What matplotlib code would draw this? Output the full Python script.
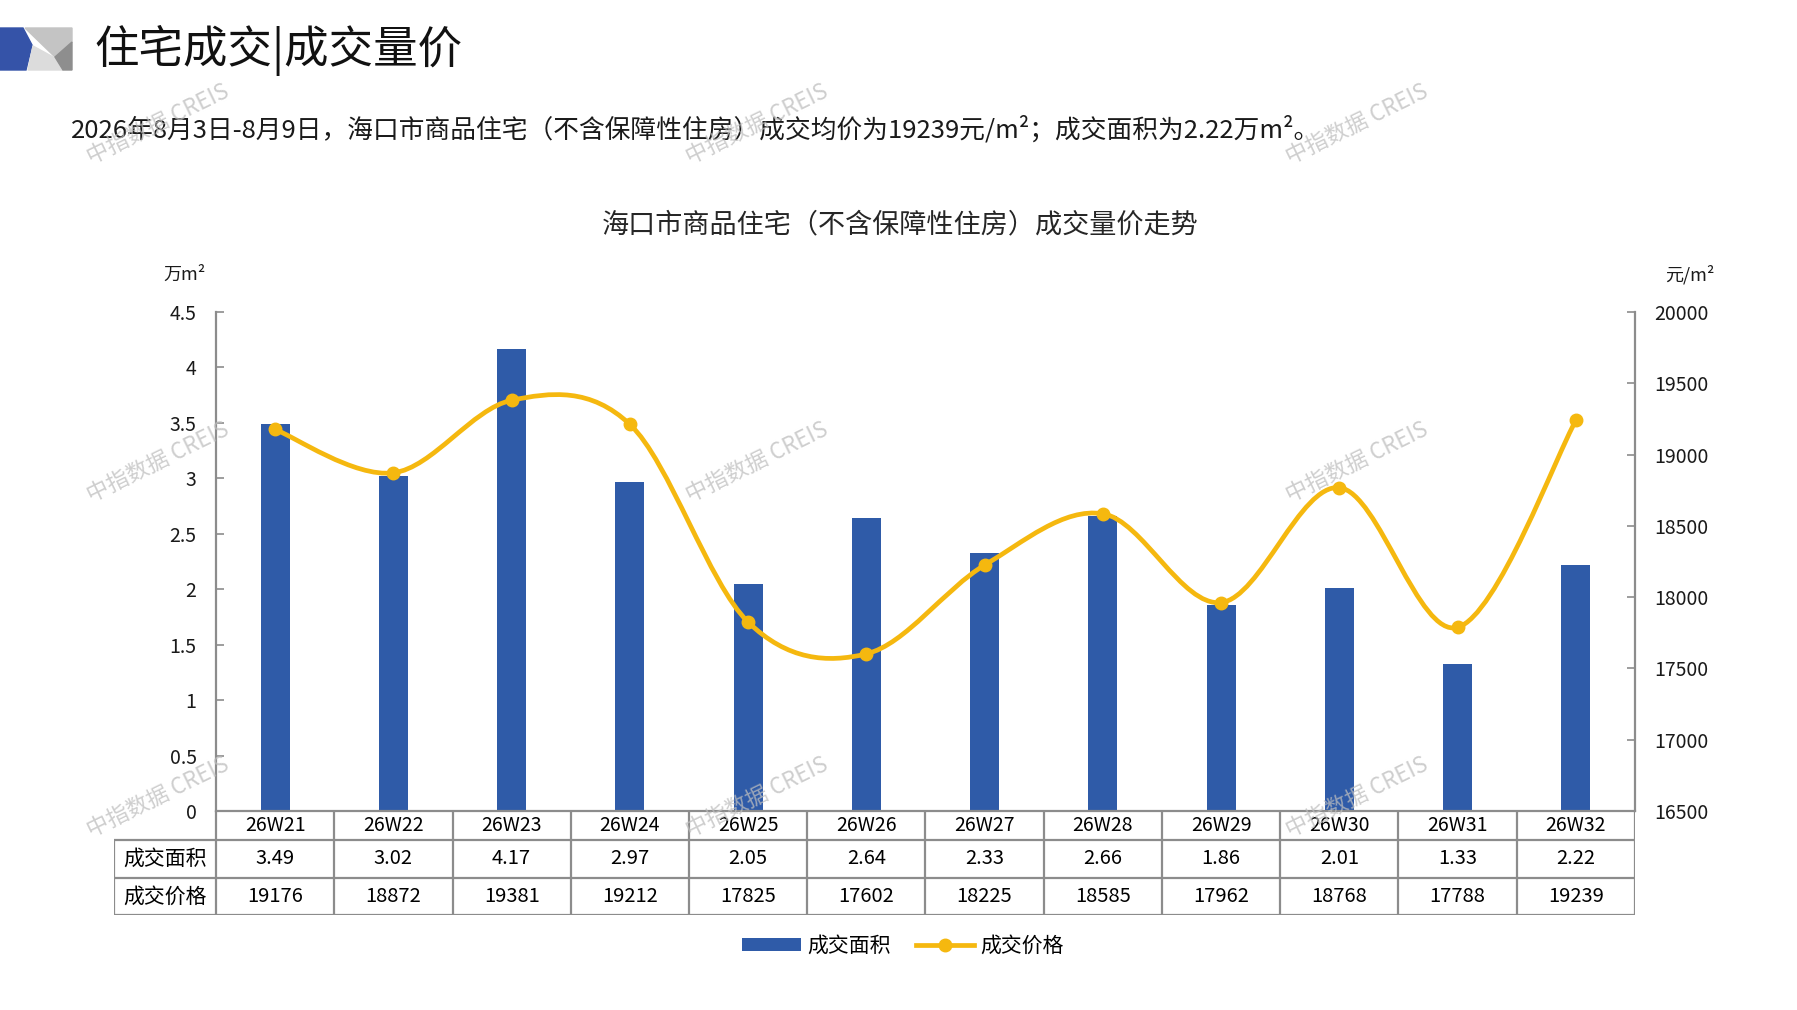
import numpy as np
import matplotlib
matplotlib.use("Agg")
import matplotlib.pyplot as plt
from matplotlib.path import Path
from matplotlib.patches import PathPatch, Polygon, Patch
from matplotlib.lines import Line2D

plt.rcParams['font.family'] = ['Noto Sans CJK SC', 'DejaVu Sans']

weeks = ['26W21', '26W22', '26W23', '26W24', '26W25', '26W26',
         '26W27', '26W28', '26W29', '26W30', '26W31', '26W32']
area = [3.49, 3.02, 4.17, 2.97, 2.05, 2.64, 2.33, 2.66, 1.86, 2.01, 1.33, 2.22]
price = [19176, 18872, 19381, 19212, 17825, 17602, 18225, 18585, 17962, 18768, 17788, 19239]
area_ticks = [0, 0.5, 1, 1.5, 2, 2.5, 3, 3.5, 4, 4.5]
area_tick_labels = ['0', '0.5', '1', '1.5', '2', '2.5', '3', '3.5', '4', '4.5']
price_ticks = [16500, 17000, 17500, 18000, 18500, 19000, 19500, 20000]

BLUE = '#2F5BA8'
GOLD = '#F5B80F'
GRID = '#8C8C8C'

W, H = 1797, 1010
fig = plt.figure(figsize=(W / 100, H / 100), dpi=100)


def fx(px):
    return px / W


def fy(py):
    return 1 - py / H


# main chart area
L, R, T, B = 216, 1635, 312, 811
ax = fig.add_axes([fx(L), fy(B), fx(R - L), (B - T) / H])
x = np.arange(len(weeks))
ax.bar(x, area, width=0.245, color=BLUE, zorder=2)
ax.set_xlim(-0.5, len(weeks) - 0.5)
ax.set_ylim(0, 4.5)
ax.set_yticks(area_ticks)
ax.set_yticklabels(area_tick_labels)
ax.set_xticks([])
for s in ['top', 'right']:
    ax.spines[s].set_visible(False)
ax.spines['left'].set_color(GRID)
ax.spines['left'].set_linewidth(1.6)
ax.spines['bottom'].set_color(GRID)
ax.spines['bottom'].set_linewidth(1.6)
ax.tick_params(axis='y', direction='in', length=6, width=1.2, color=GRID,
               labelsize=14, pad=14, labelcolor='#1a1a1a')

ax2 = ax.twinx()
ax2.set_ylim(16500, 20000)
ax2.set_yticks(price_ticks)
for s in ['top', 'left', 'bottom']:
    ax2.spines[s].set_visible(False)
ax2.spines['right'].set_color(GRID)
ax2.spines['right'].set_linewidth(1.6)
ax2.tick_params(axis='y', direction='in', length=6, width=1.2, color=GRID,
                labelsize=14, pad=14, labelcolor='#1a1a1a')


# smoothed price line (Excel style bezier through the points)
def smooth_path(xs, ys):
    n = len(xs)
    verts = [(xs[0], ys[0])]
    codes = [Path.MOVETO]
    for i in range(n - 1):
        xa, ya = (xs[i - 1], ys[i - 1]) if i > 0 else (xs[i], ys[i])
        xb, yb = (xs[i + 2], ys[i + 2]) if i + 2 < n else (xs[i + 1], ys[i + 1])
        c1 = (xs[i] + (xs[i + 1] - xa) / 6, ys[i] + (ys[i + 1] - ya) / 6)
        c2 = (xs[i + 1] - (xb - xs[i]) / 6, ys[i + 1] - (yb - ys[i]) / 6)
        verts += [c1, c2, (xs[i + 1], ys[i + 1])]
        codes += [Path.CURVE4] * 3
    return Path(verts, codes)


ax2.add_patch(PathPatch(smooth_path(list(x), price), facecolor='none',
                        edgecolor=GOLD, lw=3.4, zorder=3, capstyle='round'))
ax2.plot(x, price, 'o', color=GOLD, ms=9, zorder=4)

# data table under the chart
TL = 114
tab = fig.add_axes([fx(TL), fy(915), fx(R - TL), 104 / H])
unit = (R - L) / len(weeks)
tab.set_xlim(-0.5 - (L - TL) / unit, len(weeks) - 0.5)
tab.set_ylim(0, 104)
tab.axis('off')
lk = dict(color=GRID, lw=1.6, solid_capstyle='butt')
xl = -0.5 - (L - TL) / unit
tab.plot([xl, len(weeks) - 0.5], [0, 0], **lk)
tab.plot([xl, len(weeks) - 0.5], [37, 37], **lk)
tab.plot([xl, len(weeks) - 0.5], [75, 75], **lk)
tab.plot([xl, xl], [0, 75], **lk)
for b in np.arange(len(weeks) + 1) - 0.5:
    tab.plot([b, b], [0, 104], **lk)
for i, w in enumerate(weeks):
    tab.text(i, 89.5, w, ha='center', va='center', fontsize=14)
    tab.text(i, 56, f'{area[i]:.2f}', ha='center', va='center', fontsize=14.5)
    tab.text(i, 18.5, str(price[i]), ha='center', va='center', fontsize=14.5)
tab.text((xl - 0.5) / 2, 56, '成交面积', ha='center', va='center', fontsize=15)
tab.text((xl - 0.5) / 2, 18.5, '成交价格', ha='center', va='center', fontsize=15)

# overlay for header, logo, titles and watermarks
ov = fig.add_axes([0, 0, 1, 1], zorder=10)
ov.set_xlim(0, W)
ov.set_ylim(H, 0)
ov.axis('off')
ov.add_patch(Polygon([(0, 28), (23, 28), (32, 45), (26, 70), (0, 70)], color='#3553A8'))
ov.add_patch(Polygon([(25, 28), (72, 28), (72, 42), (55, 57)], color='#C4C4C4'))
ov.add_patch(Polygon([(33, 46), (55, 58), (63, 70), (28, 70)], color='#DCDCDC'))
ov.add_patch(Polygon([(72, 42), (72, 70), (63, 70), (55, 57)], color='#8E8E8E'))
ov.text(94, 50, '住宅成交|成交量价', fontsize=32, va='center', ha='left', color='#111111')
ov.text(71, 130, '2026年8月3日-8月9日，海口市商品住宅（不含保障性住房）成交均价为19239元/m²；成交面积为2.22万m²。',
        fontsize=18.5, va='center', ha='left', color='#1a1a1a')
ov.text(900, 225, '海口市商品住宅（不含保障性住房）成交量价走势', fontsize=19.5,
        va='center', ha='center', color='#262626')
ov.text(184, 275, '万m²', fontsize=13, va='center', ha='center', color='#1a1a1a')
ov.text(1690, 275, '元/m²', fontsize=13, va='center', ha='center', color='#1a1a1a')

for wx in [158, 757, 1357]:
    for wy in [124, 462, 797]:
        ov.text(wx, wy, '中指数据 CREIS', fontsize=16, rotation=26, ha='center',
                va='center', color='#BEBEBE', alpha=0.75)

handles = [Patch(facecolor=BLUE), Line2D([], [], color=GOLD, lw=3.4, marker='o', ms=9)]
fig.legend(handles, ['成交面积', '成交价格'], loc='center', bbox_to_anchor=(fx(903), fy(946)),
           ncol=2, frameon=False, fontsize=15, handlelength=2.8, handleheight=0.55,
           columnspacing=1.2, handletextpad=0.3)

fig.savefig('out.png', dpi=100)
